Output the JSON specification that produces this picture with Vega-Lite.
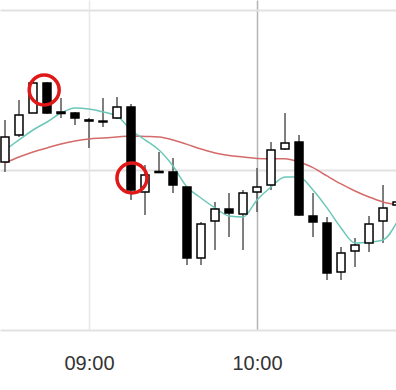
{
  "$schema": "https://vega.github.io/schema/vega-lite/v6.json",
  "width": 396,
  "height": 330,
  "padding": {"left": 0, "top": 0, "right": 0, "bottom": 60},
  "autosize": "none",
  "background": "white",
  "config": {"view": {"stroke": null}},
  "datasets": {
    "candles": [
      {"t": "2024-01-02T08:30:00", "open": 110.50, "high": 113.13, "low": 109.88, "close": 112.06, "ma_fast": 111.25, "ma_slow": 110.44},
      {"t": "2024-01-02T08:35:00", "open": 112.19, "high": 114.38, "low": 112.06, "close": 113.44, "ma_fast": 111.88, "ma_slow": 110.81},
      {"t": "2024-01-02T08:40:00", "open": 113.56, "high": 115.50, "low": 113.56, "close": 115.44, "ma_fast": 112.50, "ma_slow": 111.13},
      {"t": "2024-01-02T08:45:00", "open": 115.44, "high": 115.50, "low": 113.50, "close": 113.56, "ma_fast": 113.00, "ma_slow": 111.38},
      {"t": "2024-01-02T08:50:00", "open": 113.63, "high": 114.50, "low": 113.25, "close": 113.53, "ma_fast": 113.56, "ma_slow": 111.63},
      {"t": "2024-01-02T08:55:00", "open": 113.56, "high": 113.63, "low": 112.81, "close": 113.25, "ma_fast": 113.88, "ma_slow": 111.81},
      {"t": "2024-01-02T09:00:00", "open": 113.13, "high": 113.25, "low": 111.38, "close": 113.06, "ma_fast": 113.81, "ma_slow": 111.94},
      {"t": "2024-01-02T09:05:00", "open": 113.06, "high": 114.50, "low": 112.69, "close": 113.00, "ma_fast": 113.63, "ma_slow": 112.00},
      {"t": "2024-01-02T09:10:00", "open": 113.25, "high": 114.56, "low": 113.19, "close": 113.94, "ma_fast": 113.38, "ma_slow": 112.06},
      {"t": "2024-01-02T09:15:00", "open": 113.94, "high": 114.13, "low": 108.13, "close": 108.75, "ma_fast": 112.50, "ma_slow": 112.13},
      {"t": "2024-01-02T09:20:00", "open": 108.63, "high": 110.31, "low": 107.19, "close": 109.69, "ma_fast": 111.88, "ma_slow": 112.10},
      {"t": "2024-01-02T09:25:00", "open": 109.91, "high": 111.13, "low": 109.81, "close": 109.84, "ma_fast": 111.25, "ma_slow": 112.06},
      {"t": "2024-01-02T09:30:00", "open": 109.88, "high": 110.75, "low": 108.56, "close": 109.06, "ma_fast": 110.25, "ma_slow": 111.88},
      {"t": "2024-01-02T09:35:00", "open": 108.94, "high": 109.00, "low": 104.06, "close": 104.50, "ma_fast": 108.94, "ma_slow": 111.60},
      {"t": "2024-01-02T09:40:00", "open": 104.50, "high": 106.75, "low": 104.06, "close": 106.63, "ma_fast": 108.25, "ma_slow": 111.31},
      {"t": "2024-01-02T09:45:00", "open": 106.81, "high": 108.00, "low": 105.00, "close": 107.56, "ma_fast": 107.63, "ma_slow": 111.06},
      {"t": "2024-01-02T09:50:00", "open": 107.56, "high": 108.56, "low": 105.81, "close": 107.31, "ma_fast": 107.13, "ma_slow": 110.90},
      {"t": "2024-01-02T09:55:00", "open": 107.25, "high": 108.75, "low": 105.00, "close": 108.56, "ma_fast": 107.06, "ma_slow": 110.81},
      {"t": "2024-01-02T10:00:00", "open": 108.63, "high": 110.13, "low": 107.38, "close": 108.94, "ma_fast": 108.13, "ma_slow": 110.72},
      {"t": "2024-01-02T10:05:00", "open": 109.06, "high": 111.75, "low": 108.75, "close": 111.25, "ma_fast": 108.94, "ma_slow": 110.70},
      {"t": "2024-01-02T10:10:00", "open": 111.31, "high": 113.56, "low": 111.25, "close": 111.69, "ma_fast": 109.56, "ma_slow": 110.70},
      {"t": "2024-01-02T10:15:00", "open": 111.75, "high": 112.19, "low": 107.13, "close": 107.19, "ma_fast": 109.56, "ma_slow": 110.50},
      {"t": "2024-01-02T10:20:00", "open": 107.13, "high": 108.56, "low": 105.81, "close": 106.75, "ma_fast": 108.75, "ma_slow": 110.15},
      {"t": "2024-01-02T10:25:00", "open": 106.69, "high": 107.06, "low": 103.13, "close": 103.56, "ma_fast": 107.63, "ma_slow": 109.63},
      {"t": "2024-01-02T10:30:00", "open": 103.63, "high": 105.19, "low": 103.13, "close": 104.81, "ma_fast": 106.38, "ma_slow": 109.13},
      {"t": "2024-01-02T10:35:00", "open": 104.94, "high": 105.75, "low": 103.94, "close": 105.31, "ma_fast": 105.44, "ma_slow": 108.69},
      {"t": "2024-01-02T10:40:00", "open": 105.44, "high": 107.13, "low": 104.88, "close": 106.63, "ma_fast": 105.50, "ma_slow": 108.31},
      {"t": "2024-01-02T10:45:00", "open": 106.81, "high": 109.06, "low": 105.44, "close": 107.63, "ma_fast": 105.63, "ma_slow": 108.00},
      {"t": "2024-01-02T10:50:00", "open": 107.81, "high": 108.44, "low": 107.50, "close": 108.00, "ma_fast": 106.75, "ma_slow": 107.81}
    ],
    "highlights": [
      {"t": "2024-01-02T08:44:00", "price": 115.0},
      {"t": "2024-01-02T09:15:20", "price": 109.5}
    ]
  },
  "encoding": {
    "x": {
      "field": "t",
      "type": "temporal",
      "scale": {
        "padding": 0,
        "domain": [
          {"year": 2024, "month": 1, "date": 2, "hours": 8, "minutes": 28, "seconds": 13},
          {"year": 2024, "month": 1, "date": 2, "hours": 10, "minutes": 49, "seconds": 38}
        ]
      },
      "axis": {
        "title": null,
        "values": [
          {"year": 2024, "month": 1, "date": 2, "hours": 9, "minutes": 0},
          {"year": 2024, "month": 1, "date": 2, "hours": 10, "minutes": 0}
        ],
        "format": "%H:%M",
        "domain": false,
        "ticks": false,
        "grid": true,
        "gridWidth": 1.5,
        "gridColor": {"condition": {"test": "hours(datum.value) == 10", "value": "#b4b4b4"}, "value": "#e8e8e8"},
        "labelFont": "Liberation Sans",
        "labelFontSize": 20,
        "labelColor": "#333333",
        "labelPadding": 23
      }
    }
  },
  "layer": [
    {
      "data": {"name": "candles"},
      "mark": {"type": "rule", "color": "#555555", "strokeWidth": 1.5, "clip": true},
      "encoding": {
        "y": {
          "field": "low",
          "type": "quantitative",
          "scale": {"domain": [100, 120.625], "nice": false, "zero": false},
          "axis": {
            "title": null,
            "values": [100, 110, 120],
            "labels": false,
            "ticks": false,
            "domain": false,
            "grid": true,
            "gridColor": "#e2e2e2",
            "gridWidth": 2
          }
        },
        "y2": {"field": "high"}
      }
    },
    {
      "data": {"name": "candles"},
      "mark": {"type": "line", "color": "#d46a6a", "strokeWidth": 1.5, "interpolate": "monotone", "clip": true},
      "encoding": {"y": {"field": "ma_slow", "type": "quantitative"}}
    },
    {
      "data": {"name": "candles"},
      "mark": {"type": "line", "color": "#6cc7b8", "strokeWidth": 1.5, "interpolate": "monotone", "clip": true},
      "encoding": {"y": {"field": "ma_fast", "type": "quantitative"}}
    },
    {
      "data": {"name": "candles"},
      "mark": {"type": "bar", "width": 8, "stroke": "#000000", "strokeWidth": 1.5, "clip": true},
      "encoding": {
        "y": {"field": "open", "type": "quantitative"},
        "y2": {"field": "close"},
        "fill": {"condition": {"test": "datum.close >= datum.open", "value": "#ffffff"}, "value": "#000000"}
      }
    },
    {
      "data": {"name": "highlights"},
      "mark": {"type": "point", "shape": "circle", "filled": false, "stroke": "#e01818", "strokeWidth": 3.5, "size": 900, "opacity": 1, "clip": true},
      "encoding": {"y": {"field": "price", "type": "quantitative"}}
    }
  ]
}
